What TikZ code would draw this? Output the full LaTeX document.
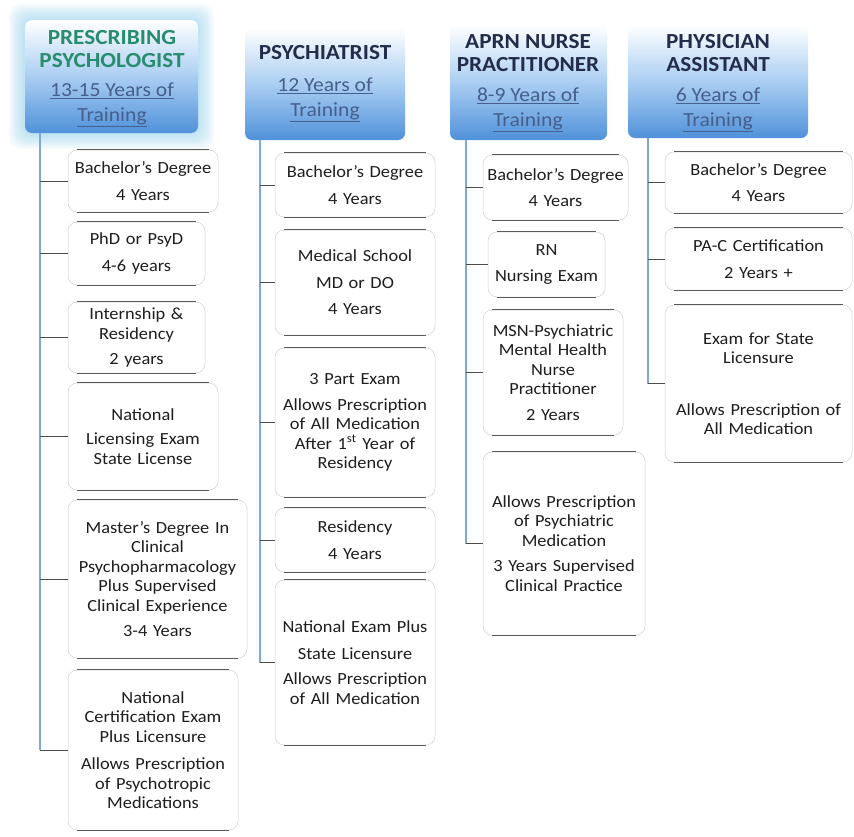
\documentclass[tikz,border=0pt]{standalone}
\usepackage{fontspec}
\setmainfont{Carlito}[FakeStretch=1.08]
\usetikzlibrary{calc}
\definecolor{hblue}{RGB}{80,145,218}
\definecolor{hmid}{RGB}{170,206,242}
\definecolor{ttlgreen}{RGB}{40,140,110}
\definecolor{ttlnavy}{RGB}{35,45,75}
\definecolor{yrblue}{RGB}{70,95,140}
\definecolor{vblue}{RGB}{125,170,215}
\definecolor{txtgray}{RGB}{30,30,30}
\definecolor{glowc}{RGB}{120,200,235}
\tikzset{
  sbox/.style={draw=black!18, line width=0.5pt, rounded corners=9pt, inner sep=0pt,
    align=center, font=\fontsize{17}{19.5}\selectfont, text=txtgray, fill=white},
  sedge/.style={draw=black!65, line width=0.8pt},
  hbox/.style={rounded corners=7pt, top color=white, bottom color=hblue, middle color=hmid, draw=none, inner sep=0pt},
  htitle/.style={align=center, font=\fontsize{21.5}{23}\selectfont\bfseries, inner sep=0pt},
  hyears/.style={align=center, font=\fontsize{20}{25}\selectfont, text=yrblue, inner sep=0pt},
  vline/.style={draw=vblue, line width=1.3pt},
  stub/.style={draw=black!70, line width=1pt},
}
\newcommand\stepbox[6]{%
  \pgfmathsetmacro\bxw{#4-#2}%
  \pgfmathsetmacro\bxh{#5-#3}%
  \pgfmathsetmacro\bxt{#4-#2-4}%
  \pgfmathsetmacro\bxcx{(#2+#4)/2}%
  \pgfmathsetmacro\bxcy{(#3+#5)/2}%
  \node[sbox, minimum width=\bxw pt, minimum height=\bxh pt, text width=\bxt pt] (#1) at (\bxcx,\bxcy) {#6};
  \draw[sedge] ([xshift=9pt]#1.north west) -- ([xshift=-9pt]#1.north east);
  \draw[sedge] ([xshift=9pt]#1.south west) -- ([xshift=-9pt]#1.south east);
}
\newcommand\headbox[5]{%
  \pgfmathsetmacro\bxw{#4-#2}%
  \pgfmathsetmacro\bxh{#5-#3}%
  \pgfmathsetmacro\bxcx{(#2+#4)/2}%
  \pgfmathsetmacro\bxcy{(#3+#5)/2}%
  \node[hbox, minimum width=\bxw pt, minimum height=\bxh pt] (#1) at (\bxcx,\bxcy) {};
}
\begin{document}
\begin{tikzpicture}[x=1pt,y=-1pt]
\useasboundingbox[fill=white] (0,0) rectangle (854,836);

% glow around first header
\foreach \g in {2,4,...,16} {
  \fill[glowc, opacity=0.07, rounded corners=12pt] ({25-\g},{20-\g}) rectangle ({198+\g},{133+\g});
}

% header boxes
\headbox{hb1}{25}{20}{198}{133}
\headbox{hb2}{245}{28}{405}{140}
\headbox{hb3}{450}{25}{607}{140}
\headbox{hb4}{628}{25}{808}{138}

% header texts
\node[htitle, text=ttlgreen] (ht1) at (112,49) {PRESCRIBING\\PSYCHOLOGIST};
\node[hyears] (hy1) at (112,105) {\underline{13-15 Years of}\\\underline{Training}};
\node[htitle, text=ttlnavy] (ht2) at (325,53) {PSYCHIATRIST};
\node[hyears] (hy2) at (325,100) {\underline{12 Years of}\\\underline{Training}};
\node[htitle, text=ttlnavy] (ht3) at (528,53.5) {APRN NURSE\\PRACTITIONER};
\node[hyears] (hy3) at (528,110) {\underline{8-9 Years of}\\\underline{Training}};
\node[htitle, text=ttlnavy] (ht4) at (718,53.5) {PHYSICIAN\\ASSISTANT};
\node[hyears] (hy4) at (718,110) {\underline{6 Years of}\\\underline{Training}};

% column 1
\stepbox{b11}{68}{150}{218}{212}{Bachelor's Degree\\[7pt]4 Years}
\stepbox{b12}{68}{222}{205}{285}{PhD or PsyD\\[7pt]4-6 years}
\stepbox{b13}{68}{302}{205}{373}{Internship \&\\Residency\\[6pt]2 years}
\stepbox{b14}{68}{383}{218}{490}{National\\[5pt]Licensing Exam\\State License}
\stepbox{b15}{68}{500}{247}{658}{Master's Degree In\\Clinical\\Psychopharmacology\\Plus Supervised\\Clinical Experience\\[6pt]3-4 Years}
\stepbox{b16}{68}{670}{238}{830}{National\\Certification Exam\\Plus Licensure\\[8pt]Allows Prescription\\of Psychotropic\\Medications}

% column 2
\stepbox{b21}{275}{153}{435}{217}{Bachelor's Degree\\[7pt]4 Years}
\stepbox{b22}{275}{230}{435}{335}{Medical School\\[7pt]MD or DO\\[7pt]4 Years}
\stepbox{b23}{275}{348}{435}{497}{3 Part Exam\\[6pt]Allows Prescription\\of All Medication\\After 1\textsuperscript{st} Year of\\Residency}
\stepbox{b24}{275}{508}{435}{572}{Residency\\[7pt]4 Years}
\stepbox{b25}{275}{580}{435}{745}{National Exam Plus\\[7pt]State Licensure\\[6pt]Allows Prescription\\of All Medication}

% column 3
\stepbox{b31}{483}{155}{628}{220}{Bachelor's Degree\\[7pt]4 Years}
\stepbox{b32}{488}{232}{605}{297}{RN\\[7pt]Nursing Exam}
\stepbox{b33}{483}{310}{623}{435}{MSN-Psychiatric\\Mental Health\\Nurse\\Practitioner\\[6pt]2 Years}
\stepbox{b34}{483}{452}{645}{635}{Allows Prescription\\of Psychiatric\\Medication\\[6pt]3 Years Supervised\\Clinical Practice}

% column 4
\stepbox{b41}{665}{152}{852}{213}{Bachelor's Degree\\[7pt]4 Years}
\stepbox{b42}{665}{228}{852}{290}{PA-C Certification\\[7pt]2 Years +}
\stepbox{b43}{665}{305}{852}{462}{Exam for State\\Licensure\\[32pt]Allows Prescription of\\All Medication}

% connector columns
\coordinate (t1) at (40,0);
\coordinate (t2) at (260,0);
\coordinate (t3) at (466,0);
\coordinate (t4) at (648,0);

\draw[vline] (t1 |- hb1.south) -- (t1 |- b16.west);
\draw[vline] (t2 |- hb2.south) -- (t2 |- b25.west);
\draw[vline] (t3 |- hb3.south) -- (t3 |- b34.west);
\draw[vline] (t4 |- hb4.south) -- (t4 |- b43.west);

\foreach \b in {b11,b12,b13,b14,b15,b16} { \draw[stub] (t1 |- \b.west) -- (\b.west); }
\foreach \b in {b21,b22,b23,b24,b25} { \draw[stub] (t2 |- \b.west) -- (\b.west); }
\foreach \b in {b31,b32,b33,b34} { \draw[stub] (t3 |- \b.west) -- (\b.west); }
\foreach \b in {b41,b42,b43} { \draw[stub] (t4 |- \b.west) -- (\b.west); }
\end{tikzpicture}
\end{document}
